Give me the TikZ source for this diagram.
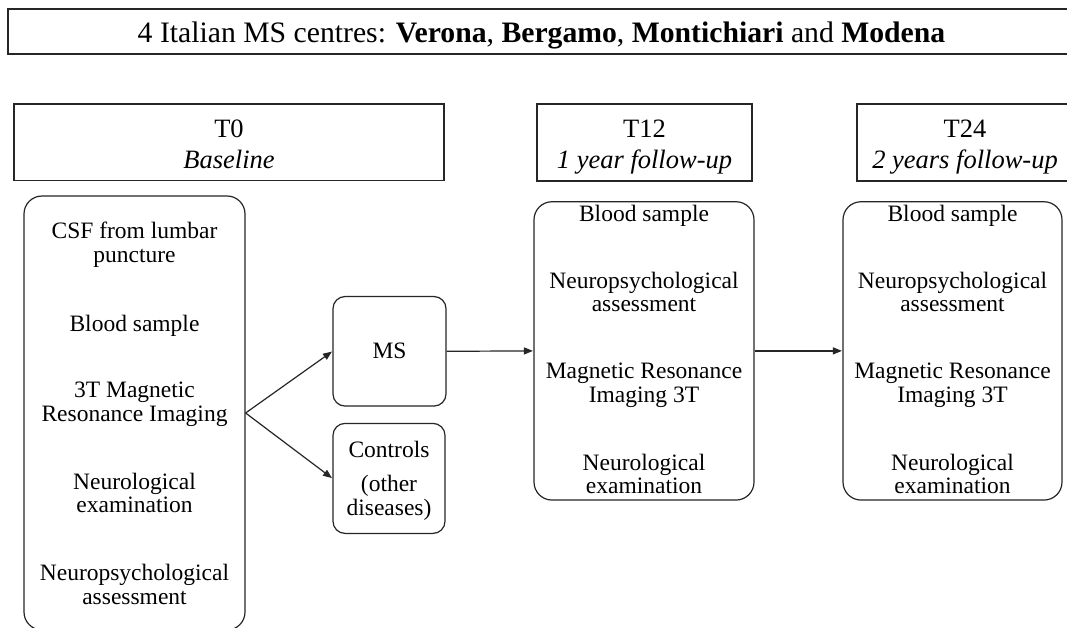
\documentclass[tikz,border=0pt]{standalone}
\usepackage{fontspec}
\setmainfont{Liberation Serif}
\usetikzlibrary{arrows.meta}
\newcommand\bodyfnt{\fontsize{23.5}{23.5}\selectfont}
\newcommand\headfnt{\fontsize{26.5}{30}\selectfont}
\newcommand\titlefnt{\fontsize{29.7}{32}\selectfont}
\tikzset{
  line/.style={draw=black!85, line width=1.2pt},
  hdr/.style={line, rectangle, inner sep=0pt},
  rbox/.style={line, rectangle, rounded corners=18pt, inner sep=0pt},
  sbox/.style={line, rectangle, rounded corners=12pt, inner sep=0pt},
  txt/.style={anchor=base, inner sep=0pt, font=\bodyfnt},
  htxt/.style={anchor=base, inner sep=0pt, font=\headfnt},
  arr/.style={line, -{Triangle[length=9pt,width=7pt]}, shorten >=0.5pt},
}
\begin{document}
\begin{tikzpicture}[x=1pt,y=-1pt]
\useasboundingbox (0,0) rectangle (1067,628);
\clip (0,0) rectangle (1067,628);
\fill[white] (0,0) rectangle (1067,628);

% title
\node[hdr, minimum width=1075pt, minimum height=45pt] (title) at (545.5,31.5) {};
\node[anchor=base, inner sep=0pt, font=\titlefnt] (titletext) at (541.5,43)
  {4 Italian MS centres: \textbf{Verona}, \textbf{Bergamo}, \textbf{Montichiari} and \textbf{Modena}};

% headers
\node[hdr, minimum width=430pt, minimum height=76.5pt] (h0) at (229,142.3) {};
\node[hdr, minimum width=215pt, minimum height=77pt] (h12) at (644.5,142.5) {};
\node[hdr, minimum width=216pt, minimum height=77pt] (h24) at (965,142.5) {};
\node[htxt] (h0a) at (229,138) {T0};
\node[htxt] (h0b) at (229,168.5) {\itshape Baseline};
\node[htxt] (h12a) at (644.5,138) {T12};
\node[htxt] (h12b) at (644.5,168.5) {\itshape 1 year follow-up};
\node[htxt] (h24a) at (965,138) {T24};
\node[htxt] (h24b) at (965,168.5) {\itshape 2 years follow-up};

% T0 box
\node[rbox, minimum width=221pt, minimum height=434pt] (t0) at (134.5,413) {};
\node[txt] (t0a) at (134.5,238.8) {CSF from lumbar};
\node[txt] (t0b) at (134.5,262.2) {puncture};
\node[txt] (t0c) at (134.5,331) {Blood sample};
\node[txt] (t0d) at (134.5,397.5) {3T Magnetic};
\node[txt] (t0e) at (134.5,421.6) {Resonance Imaging};
\node[txt] (t0f) at (134.5,489.5) {Neurological};
\node[txt] (t0g) at (134.5,512.9) {examination};
\node[txt] (t0h) at (134.5,580.7) {Neuropsychological};
\node[txt] (t0i) at (134.5,604.8) {assessment};

% MS / Controls
\node[sbox, minimum width=113pt, minimum height=109.5pt] (ms) at (389.5,351.3) {};
\node[txt] (mstxt) at (389.5,358.6) {MS};
\node[sbox, minimum width=112pt, minimum height=110pt] (ctrl) at (389,478.4) {};
\node[txt] (ctrla) at (389,457.8) {Controls};
\node[txt] (ctrlb) at (389,491) {(other};
\node[txt] (ctrlc) at (389,515) {diseases)};

% T12 / T24 boxes
\node[rbox, minimum width=220pt, minimum height=298.3pt] (t12) at (644,350.9) {};
\node[rbox, minimum width=219pt, minimum height=298.3pt] (t24) at (952.5,350.9) {};
\foreach \c/\x in {t12/644, t24/952.5}{
  \node[txt] (\c a) at (\x,221.7) {Blood sample};
  \node[txt] (\c b) at (\x,288.3) {Neuropsychological};
  \node[txt] (\c c) at (\x,311.7) {assessment};
  \node[txt] (\c d) at (\x,378.3) {Magnetic Resonance};
  \node[txt] (\c e) at (\x,402.3) {Imaging 3T};
  \node[txt] (\c f) at (\x,470) {Neurological};
  \node[txt] (\c g) at (\x,493.3) {examination};
}

% connectors
\draw[arr] (t0.east) -- (ms.west);
\draw[arr] (t0.east) -- (ctrl.west);
\draw[arr] (ms.east) -- (t12.west);
\draw[arr] (t12.east) -- (t24.west);
\end{tikzpicture}
\end{document}
